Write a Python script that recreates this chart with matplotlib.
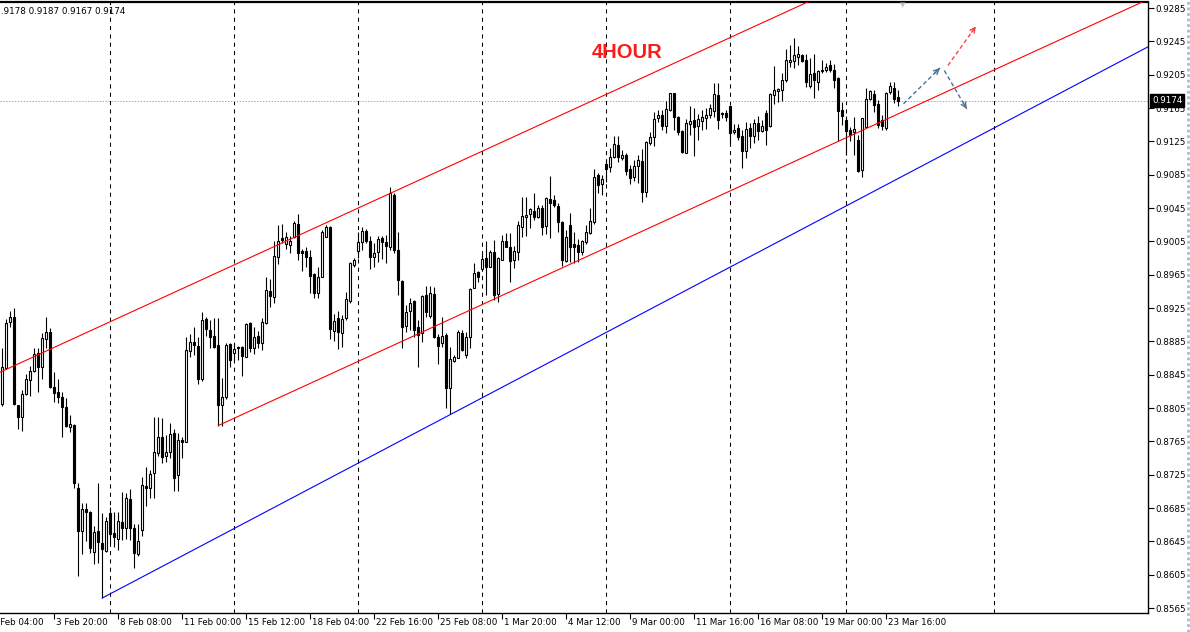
import matplotlib
matplotlib.use("Agg")
import matplotlib.pyplot as plt
import matplotlib.transforms as mtransforms
import numpy as np

# ---------------- data (H4 candles) ----------------
opens = [
0.8810, 0.8853, 0.8908, 0.8914, 0.8809, 0.8794, 0.8822, 0.8839, 0.8849, 0.8871,
0.8854, 0.8888, 0.8896, 0.8830, 0.8824, 0.8818, 0.8806, 0.8782, 0.8785, 0.8709,
0.8657, 0.8684, 0.8680, 0.8632, 0.8657, 0.8643, 0.8633, 0.8679, 0.8655, 0.8648,
0.8668, 0.8661, 0.8696, 0.8661, 0.8630, 0.8659, 0.8711, 0.8709, 0.8727, 0.8751,
0.8770, 0.8747, 0.8752, 0.8775, 0.8725, 0.8767, 0.8764, 0.8873, 0.8884, 0.8879,
0.8840, 0.8912, 0.8899, 0.8891, 0.8881, 0.8809, 0.8818, 0.8882, 0.8871, 0.8878,
0.8878, 0.8866, 0.8907, 0.8877, 0.8891, 0.8883, 0.8907, 0.8945, 0.8938, 0.8986,
0.9009, 0.9002, 0.9001, 0.9010, 0.9026, 0.8993, 0.8993, 0.8986, 0.8966, 0.8943,
0.8962, 0.9010, 0.9022, 0.8897, 0.8913, 0.8895, 0.8913, 0.8933, 0.8977, 0.8993,
0.9004, 0.9017, 0.9005, 0.8986, 0.8992, 0.9009, 0.9004, 0.8998, 0.9061, 0.8995,
0.8957, 0.8903, 0.8921, 0.8933, 0.8902, 0.8895, 0.8941, 0.8915, 0.8942, 0.8890,
0.8883, 0.8893, 0.8829, 0.8861, 0.8865, 0.8895, 0.8869, 0.8890, 0.8949, 0.8968,
0.8972, 0.8985, 0.8974, 0.8992, 0.8942, 0.8983, 0.9005, 0.8998, 0.8983, 0.8992,
0.9022, 0.9034, 0.9038, 0.9041, 0.9034, 0.9045, 0.9023, 0.9056, 0.9055, 0.9047,
0.9028, 0.8981, 0.9025, 0.9002, 0.9001, 0.8992, 0.9004, 0.9015, 0.9028, 0.9085,
0.9074, 0.9098, 0.9094, 0.9106, 0.9121, 0.9105, 0.9109, 0.9092, 0.9082, 0.9095,
0.9101, 0.9064, 0.9123, 0.9130, 0.9153, 0.9157, 0.9143, 0.9163, 0.9183, 0.9154,
0.9137, 0.9111, 0.9146, 0.9151, 0.9143, 0.9149, 0.9153, 0.9157, 0.9161, 0.9181,
0.9159, 0.9159, 0.9167, 0.9136, 0.9141, 0.9131, 0.9113, 0.9141, 0.9131, 0.9147,
0.9137, 0.9159, 0.9143, 0.9181, 0.9185, 0.9187, 0.9199, 0.9220, 0.9221, 0.9226,
0.9229, 0.9223, 0.9191, 0.9207, 0.9196, 0.9209, 0.9211, 0.9217, 0.9211, 0.9201,
0.9163, 0.9151, 0.9139, 0.9136, 0.9127, 0.9091, 0.9142, 0.9176, 0.9182, 0.9170,
0.9151, 0.9141, 0.9184, 0.9189, 0.9178]

highs = [
0.8877, 0.8912, 0.8921, 0.8925, 0.8809, 0.8827, 0.8846, 0.8855, 0.8877, 0.8877,
0.8895, 0.8914, 0.8901, 0.8848, 0.8840, 0.8824, 0.8817, 0.8797, 0.8786, 0.8715,
0.8691, 0.8691, 0.8681, 0.8663, 0.8715, 0.8679, 0.8674, 0.8686, 0.8680, 0.8680,
0.8704, 0.8703, 0.8708, 0.8666, 0.8666, 0.8722, 0.8734, 0.8731, 0.8794, 0.8794,
0.8793, 0.8773, 0.8787, 0.8780, 0.8775, 0.8770, 0.8890, 0.8894, 0.8902, 0.8890,
0.8920, 0.8914, 0.8911, 0.8913, 0.8913, 0.8841, 0.8883, 0.8883, 0.8883, 0.8879,
0.8879, 0.8907, 0.8908, 0.8902, 0.8897, 0.8913, 0.8962, 0.8960, 0.9005, 0.9025,
0.9026, 0.9016, 0.9011, 0.9029, 0.9038, 0.8996, 0.8998, 0.8995, 0.8967, 0.8974,
0.9019, 0.9025, 0.9023, 0.8918, 0.8921, 0.8917, 0.8944, 0.8980, 0.8985, 0.9016,
0.9022, 0.9020, 0.9011, 0.9003, 0.9011, 0.9011, 0.9013, 0.9070, 0.9063, 0.9016,
0.8959, 0.8929, 0.8937, 0.8935, 0.8911, 0.8941, 0.8951, 0.8951, 0.8950, 0.8894,
0.8914, 0.8895, 0.8878, 0.8869, 0.8899, 0.8899, 0.8896, 0.8949, 0.8979, 0.8969,
0.8990, 0.9005, 0.8995, 0.9007, 0.8986, 0.9013, 0.9015, 0.9015, 0.8999, 0.9029,
0.9058, 0.9058, 0.9045, 0.9063, 0.9049, 0.9049, 0.9058, 0.9083, 0.9061, 0.9051,
0.9029, 0.9019, 0.9039, 0.9016, 0.9008, 0.9007, 0.9025, 0.9045, 0.9092, 0.9087,
0.9085, 0.9104, 0.9117, 0.9131, 0.9131, 0.9115, 0.9111, 0.9097, 0.9103, 0.9109,
0.9116, 0.9125, 0.9136, 0.9160, 0.9163, 0.9163, 0.9173, 0.9183, 0.9183, 0.9155,
0.9139, 0.9152, 0.9167, 0.9165, 0.9158, 0.9163, 0.9165, 0.9170, 0.9195, 0.9195,
0.9160, 0.9163, 0.9169, 0.9146, 0.9146, 0.9139, 0.9148, 0.9147, 0.9152, 0.9155,
0.9151, 0.9163, 0.9183, 0.9215, 0.9189, 0.9207, 0.9236, 0.9241, 0.9249, 0.9239,
0.9230, 0.9230, 0.9225, 0.9230, 0.9211, 0.9223, 0.9219, 0.9223, 0.9218, 0.9202,
0.9172, 0.9155, 0.9142, 0.9154, 0.9133, 0.9153, 0.9189, 0.9187, 0.9187, 0.9175,
0.9157, 0.9184, 0.9196, 0.9196, 0.9187]

lows = [
0.8807, 0.8852, 0.8902, 0.8809, 0.8780, 0.8777, 0.8821, 0.8819, 0.8848, 0.8824,
0.8840, 0.8877, 0.8829, 0.8812, 0.8811, 0.8770, 0.8782, 0.8776, 0.8709, 0.8603,
0.8630, 0.8645, 0.8631, 0.8618, 0.8619, 0.8577, 0.8632, 0.8641, 0.8638, 0.8635,
0.8647, 0.8648, 0.8647, 0.8613, 0.8627, 0.8651, 0.8687, 0.8697, 0.8697, 0.8747,
0.8739, 0.8740, 0.8745, 0.8705, 0.8705, 0.8745, 0.8764, 0.8866, 0.8869, 0.8834,
0.8837, 0.8891, 0.8877, 0.8877, 0.8783, 0.8783, 0.8816, 0.8854, 0.8863, 0.8863,
0.8843, 0.8866, 0.8872, 0.8870, 0.8877, 0.8875, 0.8906, 0.8926, 0.8931, 0.8978,
0.9003, 0.8996, 0.8991, 0.9009, 0.8983, 0.8969, 0.8974, 0.8943, 0.8937, 0.8937,
0.8962, 0.9010, 0.8888, 0.8885, 0.8876, 0.8878, 0.8911, 0.8931, 0.8974, 0.8985,
0.8995, 0.9003, 0.8972, 0.8974, 0.8980, 0.8984, 0.8979, 0.8995, 0.8991, 0.8941,
0.8877, 0.8896, 0.8899, 0.8890, 0.8854, 0.8884, 0.8914, 0.8913, 0.8889, 0.8858,
0.8878, 0.8805, 0.8798, 0.8860, 0.8865, 0.8873, 0.8865, 0.8877, 0.8949, 0.8956,
0.8971, 0.8941, 0.8974, 0.8935, 0.8932, 0.8983, 0.8998, 0.8956, 0.8973, 0.8983,
0.9010, 0.9011, 0.9021, 0.9031, 0.9033, 0.9013, 0.9014, 0.9009, 0.9046, 0.9016,
0.8975, 0.8980, 0.8980, 0.8979, 0.8980, 0.8989, 0.9002, 0.9014, 0.9026, 0.9063,
0.9061, 0.9076, 0.9088, 0.9105, 0.9100, 0.9103, 0.9085, 0.9074, 0.9077, 0.9075,
0.9052, 0.9058, 0.9121, 0.9119, 0.9148, 0.9139, 0.9135, 0.9161, 0.9139, 0.9133,
0.9111, 0.9111, 0.9133, 0.9107, 0.9127, 0.9139, 0.9140, 0.9153, 0.9154, 0.9140,
0.9153, 0.9149, 0.9123, 0.9134, 0.9127, 0.9093, 0.9105, 0.9117, 0.9123, 0.9127,
0.9136, 0.9121, 0.9142, 0.9170, 0.9172, 0.9173, 0.9196, 0.9214, 0.9213, 0.9217,
0.9220, 0.9190, 0.9189, 0.9177, 0.9187, 0.9207, 0.9208, 0.9208, 0.9189, 0.9125,
0.9145, 0.9109, 0.9125, 0.9109, 0.9088, 0.9082, 0.9141, 0.9175, 0.9160, 0.9141,
0.9139, 0.9139, 0.9182, 0.9171, 0.9167]

closes = [
0.8854, 0.8907, 0.8914, 0.8810, 0.8794, 0.8822, 0.8840, 0.8849, 0.8870, 0.8854,
0.8889, 0.8896, 0.8830, 0.8823, 0.8818, 0.8806, 0.8783, 0.8786, 0.8715, 0.8657,
0.8684, 0.8680, 0.8637, 0.8656, 0.8644, 0.8636, 0.8669, 0.8654, 0.8650, 0.8669,
0.8661, 0.8697, 0.8661, 0.8631, 0.8645, 0.8713, 0.8709, 0.8726, 0.8752, 0.8770,
0.8746, 0.8752, 0.8774, 0.8721, 0.8767, 0.8764, 0.8875, 0.8884, 0.8881, 0.8840,
0.8911, 0.8900, 0.8890, 0.8878, 0.8809, 0.8818, 0.8881, 0.8863, 0.8876, 0.8877,
0.8867, 0.8906, 0.8877, 0.8890, 0.8883, 0.8908, 0.8947, 0.8939, 0.8987, 0.9005,
0.9007, 0.9010, 0.9005, 0.9027, 0.8991, 0.8991, 0.8986, 0.8963, 0.8943, 0.8962,
0.9016, 0.9022, 0.8900, 0.8909, 0.8896, 0.8912, 0.8936, 0.8979, 0.8983, 0.9004,
0.9017, 0.9005, 0.8986, 0.8991, 0.9008, 0.9004, 0.8999, 0.9063, 0.8995, 0.8959,
0.8902, 0.8920, 0.8931, 0.8899, 0.8893, 0.8939, 0.8920, 0.8943, 0.8890, 0.8879,
0.8891, 0.8829, 0.8864, 0.8866, 0.8896, 0.8875, 0.8890, 0.8948, 0.8967, 0.8962,
0.8984, 0.8974, 0.8992, 0.8941, 0.8985, 0.9005, 0.8998, 0.8981, 0.8993, 0.9025,
0.9035, 0.9037, 0.9044, 0.9034, 0.9045, 0.9022, 0.9057, 0.9051, 0.9049, 0.9028,
0.8983, 0.9010, 0.8998, 0.8998, 0.8992, 0.9005, 0.9016, 0.9029, 0.9082, 0.9073,
0.9080, 0.9092, 0.9106, 0.9122, 0.9106, 0.9109, 0.9089, 0.9081, 0.9095, 0.9103,
0.9064, 0.9124, 0.9130, 0.9152, 0.9157, 0.9143, 0.9164, 0.9183, 0.9154, 0.9136,
0.9112, 0.9147, 0.9149, 0.9142, 0.9152, 0.9154, 0.9157, 0.9165, 0.9182, 0.9151,
0.9158, 0.9154, 0.9135, 0.9139, 0.9130, 0.9113, 0.9140, 0.9131, 0.9147, 0.9137,
0.9143, 0.9139, 0.9182, 0.9187, 0.9188, 0.9199, 0.9223, 0.9223, 0.9229, 0.9230,
0.9221, 0.9196, 0.9206, 0.9199, 0.9209, 0.9211, 0.9214, 0.9211, 0.9199, 0.9161,
0.9155, 0.9137, 0.9133, 0.9140, 0.9089, 0.9153, 0.9176, 0.9185, 0.9169, 0.9145,
0.9143, 0.9183, 0.9191, 0.9176, 0.9174]

# time-axis labels (bar index where each label sits) and weekly separators
label_bars = [-3, 13, 29, 45, 61, 77, 93, 109, 125, 141, 157, 173, 189, 205, 221]
label_texts = ['2 Feb 04:00', '3 Feb 20:00', '8 Feb 08:00', '11 Feb 00:00', '15 Feb 12:00',
               '18 Feb 04:00', '22 Feb 16:00', '25 Feb 08:00', '1 Mar 20:00', '4 Mar 12:00',
               '9 Mar 00:00', '11 Mar 16:00', '16 Mar 08:00', '19 Mar 00:00', '23 Mar 16:00']
separator_bars = [27, 58, 89, 120, 151, 182, 211, 248]

price_ticks = [0.8565, 0.8605, 0.8645, 0.8685, 0.8725, 0.8765, 0.8805, 0.8845, 0.8885,
               0.8925, 0.8965, 0.9005, 0.9045, 0.9085, 0.9125, 0.9165, 0.9205, 0.9245, 0.9285]
last_price = 0.9174
header_text = '.9178 0.9187 0.9167 0.9174'

# trend / channel lines: (start bar, start price, price change per bar)
upper_channel = (54, 0.8968, 0.00022)
lower_channel = (54, 0.8784, 0.00022)
blue_trend = (25, 0.8577, 0.000253)

# projected path arrows: ((bar, price) start, (bar, price) end)
arrow_up1 = ((225.3, 0.9170), (234.4, 0.9213))
arrow_up2 = ((236.4, 0.9216), (243.4, 0.9263))
arrow_down = ((235.5, 0.9210), (241.1, 0.9164))

# ---------------- figure ----------------
W, H, DPI = 1190, 632, 100
fig = plt.figure(figsize=(W / DPI, H / DPI), dpi=DPI, facecolor='white')
ax_left, ax_right, ax_top, ax_bottom = 0, 1148, 2, 613
ax = fig.add_axes([ax_left / W, 1 - ax_bottom / H, (ax_right - ax_left) / W, (ax_bottom - ax_top) / H])
ax.set_facecolor('white')

FONT = 'DejaVu Sans'
FS = 6.3

o = np.array(opens); h = np.array(highs); l = np.array(lows); c = np.array(closes)
x = np.arange(len(o))
up = c >= o

ax.set_xlim(-0.575, 286.425)
ax.set_ylim(0.85590, 0.92922)

# weekly separators
for b in separator_bars:
    ax.axvline(b, color='black', lw=0.75, linestyle=(0, (4, 4)), zorder=1)

# current price line
ax.axhline(last_price, color='#a8a8a8', lw=0.7, linestyle=(0, (1.5, 1.5)), zorder=1)

# candles
ax.vlines(x, l, h, colors='black', linewidth=0.8, zorder=2)
ax.bar(x[up], (c - o)[up], bottom=o[up], width=0.55, facecolor='white',
       edgecolor='black', linewidth=0.8, zorder=3)
ax.bar(x[~up], (o - c)[~up], bottom=c[~up], width=0.55, facecolor='black',
       edgecolor='black', linewidth=0.8, zorder=3)

# channel and trend lines
xx_full = np.array([-2.0, 300.0])
def line_pts(spec, x0=None):
    b0, p0, s = spec
    xs = np.array([b0 if x0 is None else x0, 300.0])
    return xs, p0 + s * (xs - b0)

xs, ys = line_pts(upper_channel, x0=-2.0)
ax.plot(xs, ys, color='#ff0000', lw=0.8, zorder=4)
xs, ys = line_pts(lower_channel)
ax.plot(xs, ys, color='#ff0000', lw=0.8, zorder=4)
xs, ys = line_pts(blue_trend)
ax.plot(xs, ys, color='#0000ff', lw=0.8, zorder=4)

# dashed projection arrows
def dashed_arrow(seg, color):
    (x0, y0), (x1, y1) = seg
    ax.plot([x0, x1], [y0, y1], color=color, lw=1.0, linestyle=(0, (3, 2)), zorder=5)
    ax.annotate('', xy=(x1, y1), xytext=(x0 + 0.85 * (x1 - x0), y0 + 0.85 * (y1 - y0)),
                arrowprops=dict(arrowstyle='->', color=color, lw=1.0, mutation_scale=9,
                                shrinkA=0, shrinkB=0), zorder=5, annotation_clip=False)

dashed_arrow(arrow_up1, '#4f6f9a')
dashed_arrow(arrow_up2, '#f04848')
dashed_arrow(arrow_down, '#4f6f9a')

# spines
for side in ['left']:
    ax.spines[side].set_visible(False)
for side in ['top', 'right', 'bottom']:
    ax.spines[side].set_color('black')
    ax.spines[side].set_linewidth(1.0)
ax.spines['top'].set_linewidth(1.6)

# price axis on the right
ax.yaxis.tick_right()
ax.set_yticks(price_ticks)
ax.set_yticklabels([f'{p:.4f}' for p in price_ticks], fontsize=FS, fontfamily=FONT)
ax.tick_params(axis='y', direction='out', length=4, width=0.8, pad=1.5, colors='black')

# time axis
ax.set_xticks([b for b in label_bars if b >= 0])
ax.set_xticklabels([])
ax.tick_params(axis='x', direction='out', length=4, width=0.8, colors='black')
trans = mtransforms.blended_transform_factory(ax.transData, ax.transAxes)
offset = mtransforms.ScaledTranslation(2 / DPI, 0, fig.dpi_scale_trans)
for b, t in zip(label_bars, label_texts):
    ax.text(b, -0.0075, t, transform=trans + offset, ha='left', va='top',
            fontsize=FS, fontfamily=FONT, clip_on=False)

# last price box
ytrans = mtransforms.blended_transform_factory(ax.transAxes, ax.transData)
ax.text(1.0035, last_price, f'{last_price:.4f}', transform=ytrans, ha='left', va='center',
        fontsize=FS, fontfamily=FONT, color='white', zorder=10, clip_on=False,
        bbox=dict(boxstyle='square,pad=0.18', facecolor='black', edgecolor='black'))

# header and title
fig.text(1 / W, 1 - 12 / H, header_text, fontsize=FS, fontfamily=FONT, ha='left', va='center')
fig.text(627 / W, 1 - 53 / H, '4HOUR', fontsize=14.5, fontweight='bold', color='#ff1a1a',
         fontfamily='Liberation Sans', ha='center', va='center')

# chart-shift marker and window edge
fig.text(903 / W, 1 - 5 / H, '\u25BC', fontsize=5, color='#c0c0c0', ha='center', va='center',
         fontfamily=FONT)
fig.add_artist(plt.Line2D([1188 / W, 1188 / W], [0, 1], color='#a9bcd4', lw=2.0,
                          linestyle=(0, (1, 1)), transform=fig.transFigure))

fig.savefig('out.png', dpi=DPI, facecolor='white')
